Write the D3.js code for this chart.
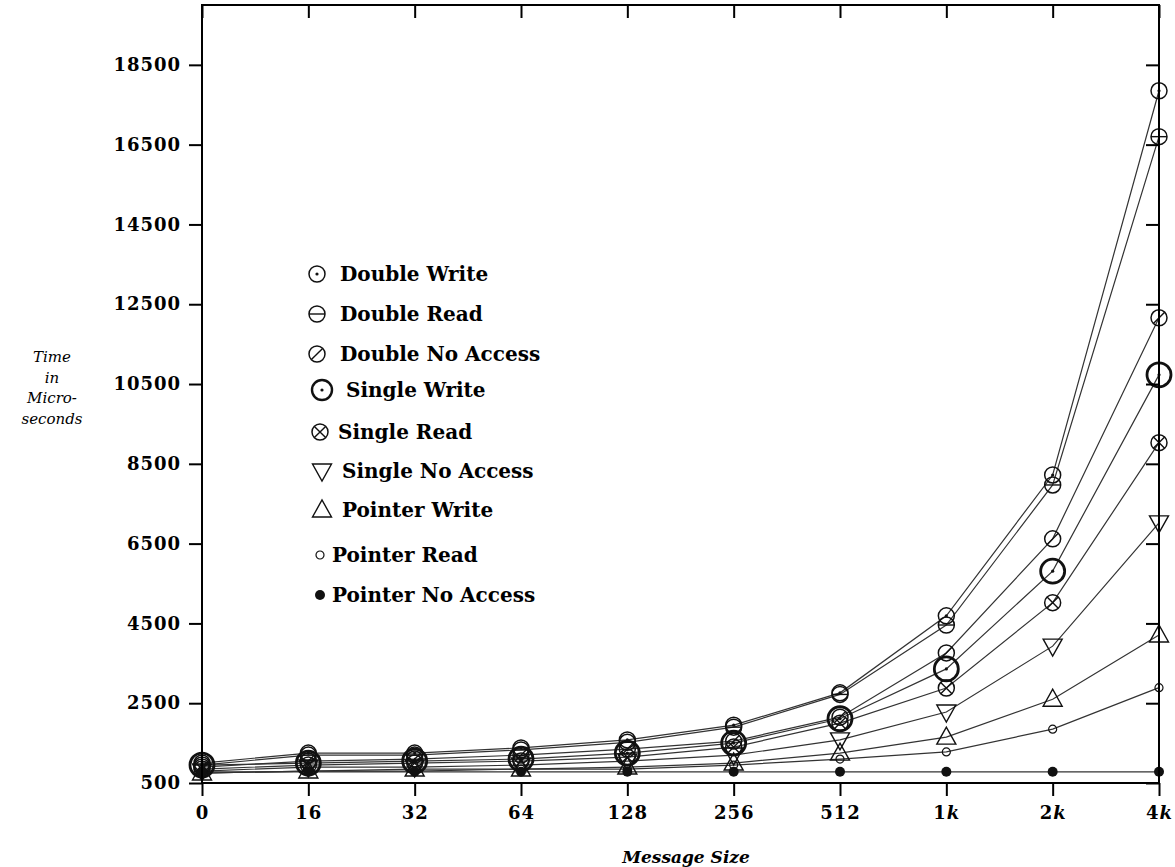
<!DOCTYPE html>
<html>
<head>
<meta charset="utf-8">
<script src="https://cdn.jsdelivr.net/npm/d3@7"></script>
<style>
  body { margin: 0; background: #fff; }
  text { font-family: "DejaVu Serif", serif; fill: #000; }
</style>
</head>
<body>
<div id="chart"></div>
<script>
// message sizes on the x axis
const sizes = ["0", "16", "32", "64", "128", "256", "512", "1k", "2k", "4k"];
const yTicks = [500, 2500, 4500, 6500, 8500, 10500, 12500, 14500, 16500, 18500];

// times in microseconds
const doubleWrite    = [1000, 1250, 1250, 1380, 1580, 1950, 2760, 4690, 8220, 17850];
const doubleRead     = [950, 1200, 1200, 1330, 1520, 1900, 2720, 4460, 7970, 16700];
const doubleNoAccess = [900, 1050, 1100, 1200, 1350, 1550, 2150, 3760, 6620, 12160];
const singleWrite    = [950, 1000, 1050, 1100, 1250, 1500, 2110, 3360, 5810, 10730];
const singleRead     = [850, 950, 1000, 1050, 1150, 1400, 2000, 2880, 5020, 9030];
const singleNoAccess = [800, 900, 900, 950, 1050, 1200, 1580, 2280, 3930, 7020];
const pointerWrite   = [750, 800, 850, 850, 900, 1000, 1250, 1650, 2600, 4210];
const pointerRead    = [750, 800, 800, 850, 850, 950, 1100, 1280, 1850, 2890];
const pointerNoAcc   = [780, 780, 780, 780, 780, 780, 780, 780, 780, 780];

const series = [
    {name: "Double Write", values: doubleWrite, mark: "dot"},
    {name: "Double Read", values: doubleRead, mark: "minus"},
    {name: "Double No Access", values: doubleNoAccess, mark: "slash"},
    {name: "Single Write", values: singleWrite, mark: "bigdot"},
    {name: "Single Read", values: singleRead, mark: "cross"},
    {name: "Single No Access", values: singleNoAccess, mark: "down"},
    {name: "Pointer Write", values: pointerWrite, mark: "up"},
    {name: "Pointer Read", values: pointerRead, mark: "small"},
    {name: "Pointer No Access", values: pointerNoAcc, mark: "filled"},
];

const width = 1175, height = 867;
const box = {left: 202, right: 1159, top: 5, bottom: 783};

const svg = d3.select("#chart")
    .append("svg")
    .attr("width", width)
    .attr("height", height);

const x = d3.scalePoint().domain(sizes).range([box.left, box.right]);
const y = d3.scaleLinear().domain([500, 20000]).range([box.bottom, box.top]);

// draws one marker glyph into g, centred on 0,0
function drawMark(g, mark) {
    const ink = "#111";
    if (mark === "filled") {
        g.append("circle").attr("r", 5).attr("fill", ink);
        return;
    }
    if (mark === "small") {
        g.append("circle").attr("r", 4).attr("fill", "none").attr("stroke", ink).attr("stroke-width", 1.2);
        return;
    }
    if (mark === "up" || mark === "down") {
        const s = mark === "up" ? 1 : -1;
        g.append("path")
            .attr("d", `M-9.5,${7 * s}L9.5,${7 * s}L0,${-10 * s}Z`)
            .attr("fill", "none").attr("stroke", ink).attr("stroke-width", 1.4);
        return;
    }
    const r = mark === "bigdot" ? 12 : 8;
    g.append("circle").attr("r", r).attr("fill", "none")
        .attr("stroke", ink).attr("stroke-width", mark === "bigdot" ? 2.8 : 1.5);
    if (mark === "dot" || mark === "bigdot") {
        g.append("circle").attr("r", 1.6).attr("fill", ink);
    }
    if (mark === "minus") {
        g.append("line").attr("x1", -8).attr("x2", 8).attr("stroke", ink).attr("stroke-width", 1.4);
    }
    if (mark === "slash") {
        g.append("line").attr("x1", -5.6).attr("y1", 5.6).attr("x2", 5.6).attr("y2", -5.6)
            .attr("stroke", ink).attr("stroke-width", 1.4);
    }
    if (mark === "cross") {
        g.append("path").attr("d", "M-5.6,-5.6L5.6,5.6M-5.6,5.6L5.6,-5.6")
            .attr("stroke", ink).attr("stroke-width", 1.4);
    }
}

// lines first, markers on top
const line = d3.line()
    .x((d, i) => x(sizes[i]))
    .y(d => y(d));

svg.append("g")
    .selectAll("path")
    .data(series)
    .enter()
    .append("path")
    .attr("d", d => line(d.values))
    .attr("fill", "none")
    .attr("stroke", "#333")
    .attr("stroke-width", 1.2);

series.forEach(s => {
    s.values.forEach((v, i) => {
        const g = svg.append("g").attr("transform", `translate(${x(sizes[i])},${y(v)})`);
        drawMark(g, s.mark);
    });
});

// frame
svg.append("rect")
    .attr("x", box.left).attr("y", box.top)
    .attr("width", box.right - box.left).attr("height", box.bottom - box.top)
    .attr("fill", "none").attr("stroke", "#000").attr("stroke-width", 2);

const axisFont = g => g.selectAll("text")
    .style("font-family", "DejaVu Serif")
    .style("font-weight", "bold")
    .style("font-size", "18px")
    .style("letter-spacing", "1px");

const leftAxis = svg.append("g")
    .attr("transform", `translate(${box.left},0)`)
    .call(d3.axisLeft(y).tickValues(yTicks).tickFormat(d3.format("d"))
        .tickSize(13).tickSizeOuter(0).tickPadding(8));
leftAxis.select(".domain").remove();
leftAxis.selectAll("line").attr("stroke-width", 2);
leftAxis.call(axisFont);

const rightAxis = svg.append("g")
    .attr("transform", `translate(${box.right},0)`)
    .call(d3.axisLeft(y).tickValues(yTicks).tickSize(-13).tickSizeOuter(0).tickFormat(""));
rightAxis.select(".domain").remove();
rightAxis.selectAll("line").attr("x2", -13).attr("stroke-width", 2);

const bottomAxis = svg.append("g")
    .attr("transform", `translate(0,${box.bottom})`)
    .call(d3.axisBottom(x).tickSize(13).tickSizeOuter(0).tickPadding(10));
bottomAxis.select(".domain").remove();
bottomAxis.selectAll("line").attr("stroke-width", 2);
bottomAxis.call(axisFont);
// the "k" is set in italic
bottomAxis.selectAll("text").each(function(d) {
    if (d.endsWith("k")) {
        const t = d3.select(this).text("");
        t.append("tspan").text(d.slice(0, -1));
        t.append("tspan").style("font-style", "italic").text("k");
    }
});

const topAxis = svg.append("g")
    .attr("transform", `translate(0,${box.top})`)
    .call(d3.axisTop(x).tickSize(-13).tickSizeOuter(0).tickFormat(""));
topAxis.select(".domain").remove();
topAxis.selectAll("line").attr("stroke-width", 2);

// axis titles
svg.append("text")
    .attr("x", 686).attr("y", 863)
    .attr("text-anchor", "middle")
    .style("font-style", "italic").style("font-weight", "bold").style("font-size", "17px")
    .text("Message Size");

const yTitle = ["Time", "in", "Micro-", "seconds"];
svg.append("g")
    .selectAll("text")
    .data(yTitle)
    .enter()
    .append("text")
    .attr("x", 52)
    .attr("y", (d, i) => 362 + i * 20.5)
    .attr("text-anchor", "middle")
    .style("font-style", "italic").style("font-size", "15px")
    .text(d => d);

// legend
const legendRows = [274, 314, 354, 390, 432, 471, 510, 555, 595];
const legendSymX = [317, 317, 317, 322, 320, 322, 322, 320, 320];
const legendTextX = [340, 340, 340, 346, 338, 342, 342, 332, 332];

series.forEach((s, i) => {
    const g = svg.append("g").attr("transform", `translate(${legendSymX[i]},${legendRows[i]})`);
    if (s.mark === "bigdot") {
        g.append("circle").attr("r", 10).attr("fill", "none").attr("stroke", "#111").attr("stroke-width", 2.4);
        g.append("circle").attr("r", 1.6).attr("fill", "#111");
    } else {
        drawMark(g, s.mark);
    }
    svg.append("text")
        .attr("x", legendTextX[i])
        .attr("y", legendRows[i] + 7)
        .style("font-weight", "bold")
        .style("font-size", "20px")
        .text(s.name);
});
</script>
</body>
</html>
